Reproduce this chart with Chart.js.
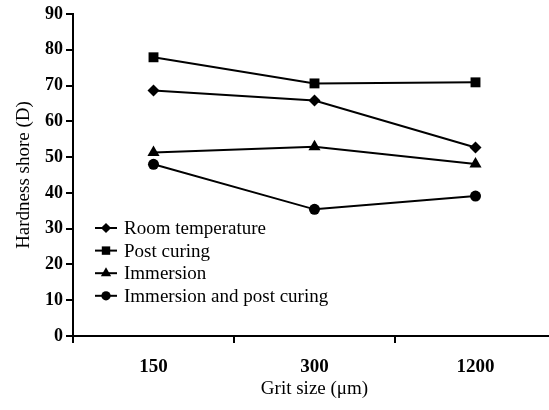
<!DOCTYPE html>
<html>
<head>
<meta charset="utf-8">
<script src="https://cdn.jsdelivr.net/npm/chart.js@4/dist/chart.umd.min.js"></script>
<style>
  html, body { margin: 0; padding: 0; background: #fff; overflow: hidden; }
  #wrap { width: 549px; height: 410px; overflow: hidden; }
</style>
</head>
<body>
<div id="wrap"><canvas id="hardness-chart" width="563" height="410"></canvas></div>
<script>
// valores
const gritSizes = ['150', '300', '1200'];
const roomTemp = [68.6, 65.8, 52.7];
const postCuring = [77.9, 70.6, 70.9];
const immersion = [51.3, 52.9, 48.1];
const immersionPost = [48.0, 35.4, 39.1];
const yTicks = [0, 10, 20, 30, 40, 50, 60, 70, 80, 90];

const serif = "'Liberation Serif', 'Times New Roman', serif";

function makeSet(label, data, style, radius) {
    return {
        label: label,
        data: data,
        borderColor: '#000',
        backgroundColor: '#000',
        borderWidth: 2,
        pointStyle: style,
        pointRadius: radius,
        pointHoverRadius: radius,
        pointBorderWidth: 0,
        tension: 0,
        fill: false
    };
}

// leyenda con linea + marcador, como la original
const lineLegend = {
    id: 'lineLegend',
    afterDraw(chart) {
        const ctx = chart.ctx;
        const x0 = 95, y0 = 228, gap = 22.6;
        ctx.save();
        chart.data.datasets.forEach((ds, i) => {
            const y = y0 + i * gap;
            ctx.strokeStyle = '#000';
            ctx.lineWidth = 2;
            ctx.beginPath();
            ctx.moveTo(x0, y);
            ctx.lineTo(x0 + 22, y);
            ctx.stroke();
            ctx.fillStyle = '#000';
            Chart.helpers.drawPoint(ctx, {
                pointStyle: ds.pointStyle,
                radius: ds.pointRadius * 0.85,
                rotation: 0,
                borderWidth: 0
            }, x0 + 11, y);
            ctx.fillStyle = '#000';
            ctx.font = '19px ' + serif;
            ctx.textBaseline = 'middle';
            ctx.textAlign = 'left';
            ctx.fillText(ds.label, x0 + 29, y + 1);
        });
        ctx.restore();
    }
};

new Chart(document.getElementById('hardness-chart'), {
    type: 'line',
    data: {
        labels: gritSizes,
        datasets: [
            makeSet('Room temperature', roomTemp, 'rectRot', 6),
            makeSet('Post curing', postCuring, 'rect', 7),
            makeSet('Immersion', immersion, 'triangle', 7),
            makeSet('Immersion and post curing', immersionPost, 'circle', 5.5)
        ]
    },
    options: {
        responsive: false,
        animation: false,
        layout: { padding: { top: 14, right: 0, bottom: 0, left: 0 } },
        plugins: {
            legend: { display: false },
            tooltip: { enabled: false }
        },
        scales: {
            x: {
                offset: true,
                border: { color: '#000', width: 2 },
                grid: { display: true, offset: true, drawOnChartArea: false, color: '#000', lineWidth: 2, tickLength: 7 },
                ticks: { color: '#000', font: { family: serif, size: 19, weight: 'bold' }, padding: 13, maxRotation: 0 },
                title: { display: true, text: 'Grit size (μm)', color: '#000', font: { family: serif, size: 19 }, padding: { top: 4, bottom: 10 } },
                afterFit(scale) { scale.height = 74; }
            },
            y: {
                min: 0,
                max: 90,
                afterBuildTicks(scale) { scale.ticks = yTicks.map(v => ({ value: v })); },
                border: { color: '#000', width: 2 },
                grid: { display: true, drawOnChartArea: false, color: '#000', lineWidth: 2, tickLength: 7 },
                ticks: { color: '#000', font: { family: serif, size: 18, weight: 'bold' }, padding: 3 },
                title: { display: true, text: 'Hardness shore (D)', color: '#000', font: { family: serif, size: 19 }, padding: { top: 13, bottom: 0 } },
                afterFit(scale) { scale.width = 73; }
            }
        }
    },
    plugins: [lineLegend]
});
</script>
</body>
</html>
